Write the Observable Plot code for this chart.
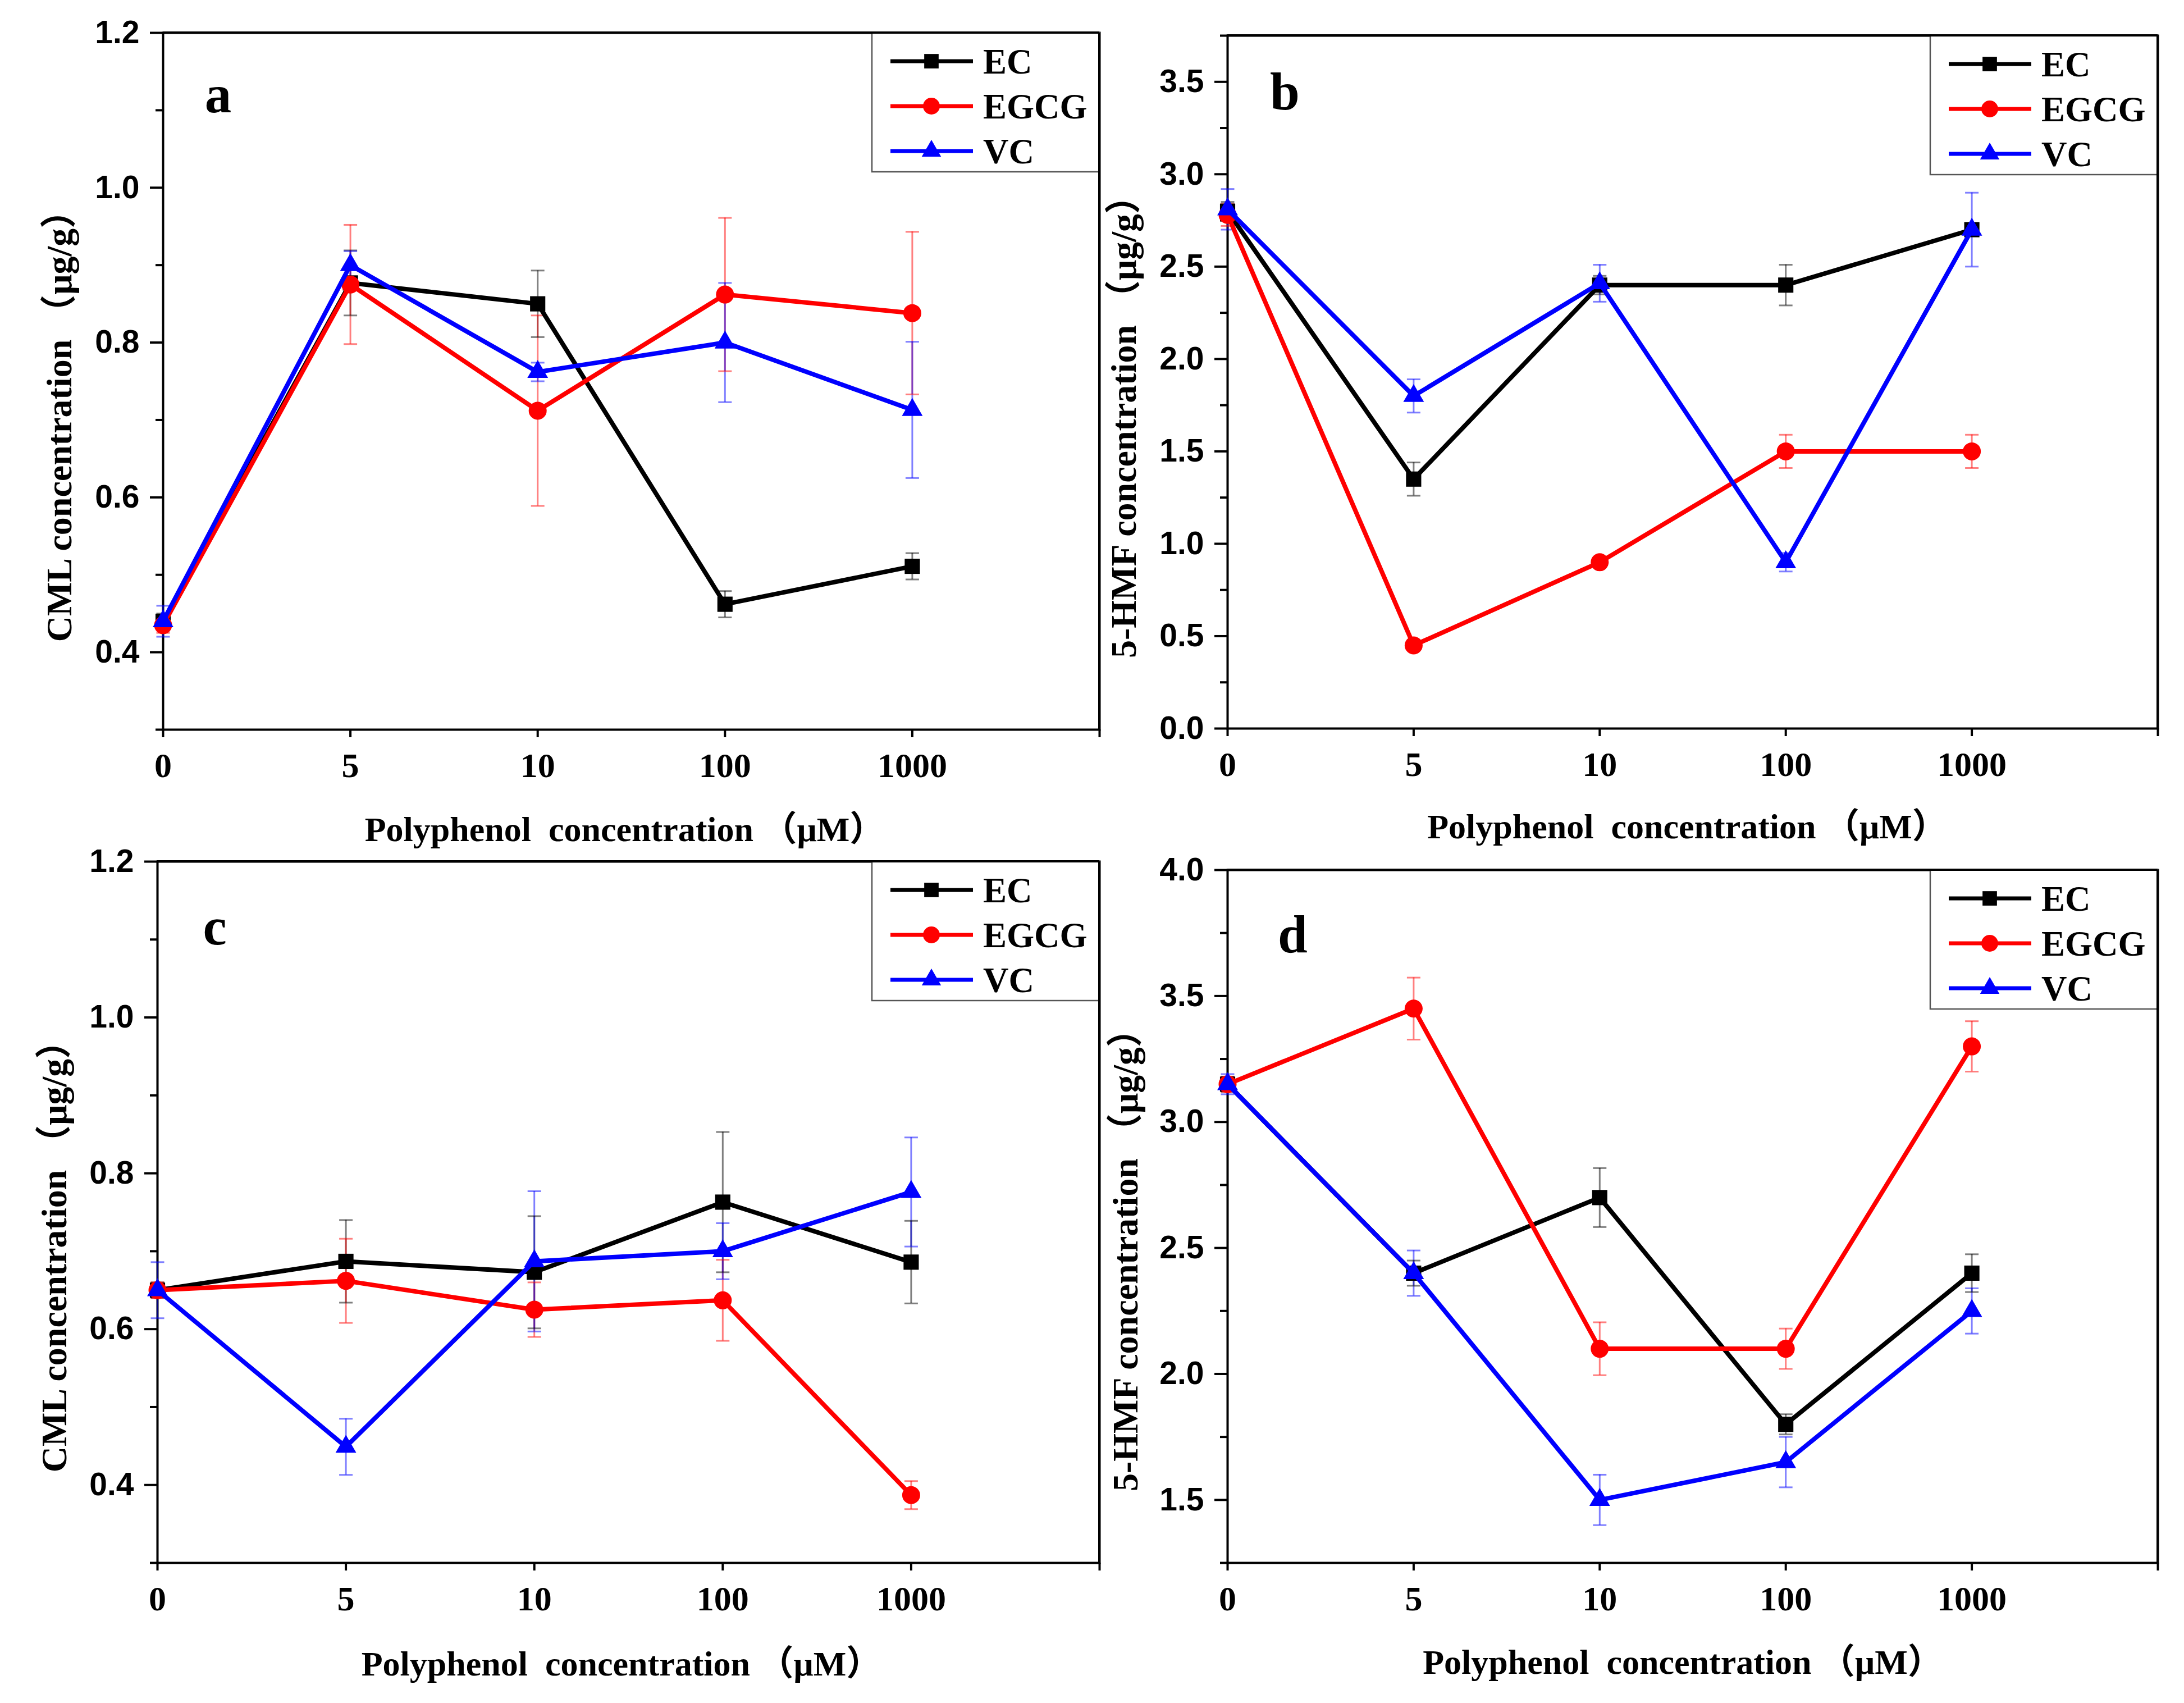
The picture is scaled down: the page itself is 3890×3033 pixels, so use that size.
<!DOCTYPE html>
<html><head><meta charset="utf-8">
<script src="https://cdn.jsdelivr.net/npm/d3@7"></script>
<script src="https://cdn.jsdelivr.net/npm/@observablehq/plot@0.6"></script>
<style>
html,body{margin:0;padding:0;background:#fff;}
#root{position:relative;width:3890px;height:3033px;background:#fff;overflow:hidden;}
#root svg{position:absolute;max-width:none;}
</style></head><body><div id="root"></div>
<script>
// ---- data ----
const xTickLabels = ["0", "5", "10", "100", "1000"];
const seriesNames = ["EC", "EGCG", "VC"];

// panel a: CML
const aEC = [0.44, 0.877, 0.850, 0.462, 0.511];
const aECErr = [0.01, 0.042, 0.043, 0.017, 0.017];
const aEGCG = [0.435, 0.875, 0.712, 0.862, 0.838];
const aEGCGErr = [0.01, 0.077, 0.123, 0.099, 0.105];
const aVC = [0.44, 0.900, 0.762, 0.800, 0.713];
const aVCErr = [0.02, 0.018, 0.012, 0.077, 0.088];

// panel b: 5-HMF
const bEC = [2.80, 1.35, 2.40, 2.40, 2.70];
const bECErr = [0.05, 0.09, 0.05, 0.11, 0.03];
const bEGCG = [2.78, 0.45, 0.90, 1.50, 1.50];
const bEGCGErr = [0.06, 0.02, 0.02, 0.09, 0.09];
const bVC = [2.81, 1.80, 2.41, 0.90, 2.70];
const bVCErr = [0.11, 0.09, 0.10, 0.05, 0.20];

// panel c: CML
const cEC = [0.650, 0.687, 0.673, 0.763, 0.686];
const cECErr = [0.01, 0.053, 0.072, 0.090, 0.053];
const cEGCG = [0.650, 0.662, 0.625, 0.637, 0.387];
const cEGCGErr = [0.01, 0.054, 0.035, 0.052, 0.018];
const cVC = [0.650, 0.449, 0.687, 0.700, 0.776];
const cVCErr = [0.036, 0.036, 0.090, 0.036, 0.070];

// panel d: 5-HMF
const dEC = [3.15, 2.40, 2.70, 1.80, 2.40];
const dECErr = [0.03, 0.05, 0.117, 0.04, 0.075];
const dEGCG = [3.15, 3.45, 2.10, 2.10, 3.30];
const dEGCGErr = [0.03, 0.123, 0.105, 0.08, 0.10];
const dVC = [3.15, 2.40, 1.50, 1.65, 2.25];
const dVCErr = [0.04, 0.09, 0.10, 0.10, 0.09];

const cmlTicks = [0.4, 0.6, 0.8, 1.0, 1.2];
const cmlMinor = [0.3, 0.5, 0.7, 0.9, 1.1];
const hmfBTicks = [0.0, 0.5, 1.0, 1.5, 2.0, 2.5, 3.0, 3.5];
const hmfBMinor = [0.25, 0.75, 1.25, 1.75, 2.25, 2.75, 3.25, 3.75];
const hmfDTicks = [1.5, 2.0, 2.5, 3.0, 3.5, 4.0];
const hmfDMinor = [1.25, 1.75, 2.25, 2.75, 3.25, 3.75];

const xTitle = "Polyphenol  concentration （μM）";
const cmlTitle = "CML concentration （μg/g）";
const hmfTitle = "5-HMF concentration （μg/g）";

// ---- styles ----
const seriesColors = ["#000000", "#ff0000", "#0000ff"];
const markerSymbols = ["square", "circle", "triangle"];
const markerR = [15.3, 16, 13.7];
const legendR = [14.5, 15, 12.8];
const serif = "'Liberation Serif', 'Times New Roman', 'Noto Sans CJK SC', serif";
const sans = "'Liberation Sans', Arial, sans-serif";
const cap = {draw(ctx) { ctx.moveTo(-12, 0); ctx.lineTo(12, 0); }};

function panel(p) {
  const rows = [];
  seriesNames.forEach((s, k) => p.values[k].forEach((v, i) => rows.push({s, i, v, e: p.errors[k][i]})));
  const [mt, mr, mb, ml] = p.margin;
  const marks = [
    Plot.axisY({ticks: p.minor, tickSize: 13, tickFormat: () => "", strokeWidth: 4, label: null}),
    Plot.axisY({ticks: p.major, tickSize: 23, tickPadding: 19, tickFormat: d => d.toFixed(1),
      fontSize: 57, fontFamily: sans, fontWeight: "bold", strokeWidth: 4, label: null}),
    Plot.axisX({ticks: [0, 1, 2, 3, 4, 5], tickSize: 14, tickPadding: 26, tickFormat: i => xTickLabels[i] ?? "",
      fontSize: 62, fontFamily: serif, fontWeight: "bold", strokeWidth: 4, label: null}),
    Plot.frame({stroke: "#000", strokeWidth: 4}),
    Plot.ruleX(rows, {x: "i", y1: d => d.v - d.e, y2: d => d.v + d.e, stroke: "s", strokeWidth: 3, strokeOpacity: 0.5}),
    Plot.dot(rows, {x: "i", y: d => d.v + d.e, symbol: cap, stroke: "s", fill: "none", strokeWidth: 3, strokeOpacity: 0.5}),
    Plot.dot(rows, {x: "i", y: d => d.v - d.e, symbol: cap, stroke: "s", fill: "none", strokeWidth: 3, strokeOpacity: 0.5})
  ];
  seriesNames.forEach((s, k) => {
    const d = rows.filter(r => r.s === s);
    marks.push(Plot.line(d, {x: "i", y: "v", stroke: seriesColors[k], strokeWidth: 8}));
    marks.push(Plot.dot(d, {x: "i", y: "v", fill: seriesColors[k], stroke: "none", symbol: markerSymbols[k], r: markerR[k]}));
  });
  marks.push(Plot.text([p.letter], {frameAnchor: "top-left", dx: p.letterPos[0], dy: p.letterPos[1],
    textAnchor: "middle", lineAnchor: "middle", fontSize: 95, fontFamily: serif, fontWeight: "bold", fill: "#000"}));
  marks.push(Plot.text([xTitle], {frameAnchor: "bottom", dx: p.xTitlePos[0], dy: p.xTitlePos[1],
    textAnchor: "middle", lineAnchor: "middle", fontSize: 62, fontFamily: serif, fontWeight: "bold", fill: "#000"}));
  marks.push(Plot.text([p.yTitle], {frameAnchor: "left", dx: p.yTitlePos[0], dy: p.yTitlePos[1], rotate: -90,
    textAnchor: "middle", lineAnchor: "middle", fontSize: 64, fontFamily: serif, fontWeight: "bold", fill: "#000"}));

  const svg = Plot.plot({
    width: p.width, height: p.height,
    marginTop: mt, marginRight: mr, marginBottom: mb, marginLeft: ml,
    x: {domain: [0, 5], label: null},
    y: {domain: p.domain, label: null},
    color: {domain: seriesNames, range: seriesColors},
    style: {background: "transparent", overflow: "visible"},
    marks
  });
  svg.style.left = p.left + "px";
  svg.style.top = p.top + "px";

  // legend box inside the frame, top-right
  const right = p.width - mr, top = mt;
  const g = d3.select(svg).append("g").attr("text-anchor", "start");
  g.append("rect").attr("x", right - 405).attr("y", top).attr("width", 405).attr("height", 248)
    .attr("fill", "#fff").attr("stroke", "#555").attr("stroke-width", 2.5);
  const rowsY = [51, 131, 211];
  const legSyms = [d3.symbolSquare, d3.symbolCircle, d3.symbolTriangle];
  seriesNames.forEach((s, k) => {
    const y = top + rowsY[k];
    g.append("line").attr("x1", right - 372).attr("x2", right - 225).attr("y1", y).attr("y2", y)
      .attr("stroke", seriesColors[k]).attr("stroke-width", 7);
    g.append("path").attr("transform", `translate(${right - 299},${y})`)
      .attr("d", d3.symbol(legSyms[k], Math.PI * legendR[k] * legendR[k])()).attr("fill", seriesColors[k]);
    g.append("text").attr("x", right - 207).attr("y", y + 22).attr("text-anchor", "start").text(s)
      .attr("font-family", serif).attr("font-weight", "bold").attr("font-size", 63).attr("fill", "#000");
  });
  // redraw frame edge over legend border
  g.append("line").attr("x1", ml).attr("x2", right).attr("y1", top).attr("y2", top).attr("stroke", "#000").attr("stroke-width", 4);
  g.append("line").attr("x1", right).attr("x2", right).attr("y1", top).attr("y2", p.height - mb).attr("stroke", "#000").attr("stroke-width", 4);
  document.getElementById("root").appendChild(svg);
}

panel({letter: "a", yTitle: cmlTitle, domain: [0.3, 1.2], major: cmlTicks, minor: cmlMinor,
  values: [aEC, aEGCG, aVC], errors: [aECErr, aEGCGErr, aVCErr],
  left: 0, top: 0, width: 2000, height: 1520, margin: [58, 42, 221, 290],
  letterPos: [98, 111], xTitlePos: [-12, 179], yTitlePos: [-184, 64]});
panel({letter: "b", yTitle: hmfTitle, domain: [0, 3.75], major: hmfBTicks, minor: hmfBMinor,
  values: [bEC, bEGCG, bVC], errors: [bECErr, bEGCGErr, bVCErr],
  left: 1940, top: 0, width: 1950, height: 1520, margin: [63, 47, 223, 246],
  letterPos: [102, 101], xTitlePos: [-10, 176], yTitlePos: [-184, 64]});
panel({letter: "c", yTitle: cmlTitle, domain: [0.3, 1.2], major: cmlTicks, minor: cmlMinor,
  values: [cEC, cEGCG, cVC], errors: [cECErr, cEGCGErr, cVCErr],
  left: 0, top: 1500, width: 2000, height: 1533, margin: [34, 42, 250, 280],
  letterPos: [102, 117], xTitlePos: [-13, 181], yTitlePos: [-183, 63]});
panel({letter: "d", yTitle: hmfTitle, domain: [1.25, 4.0], major: hmfDTicks, minor: hmfDMinor,
  values: [dEC, dEGCG, dVC], errors: [dECErr, dEGCGErr, dVCErr],
  left: 1940, top: 1500, width: 1950, height: 1533, margin: [49, 47, 250, 246],
  letterPos: [116, 116], xTitlePos: [-18, 178], yTitlePos: [-181, 62]});
</script></body></html>
